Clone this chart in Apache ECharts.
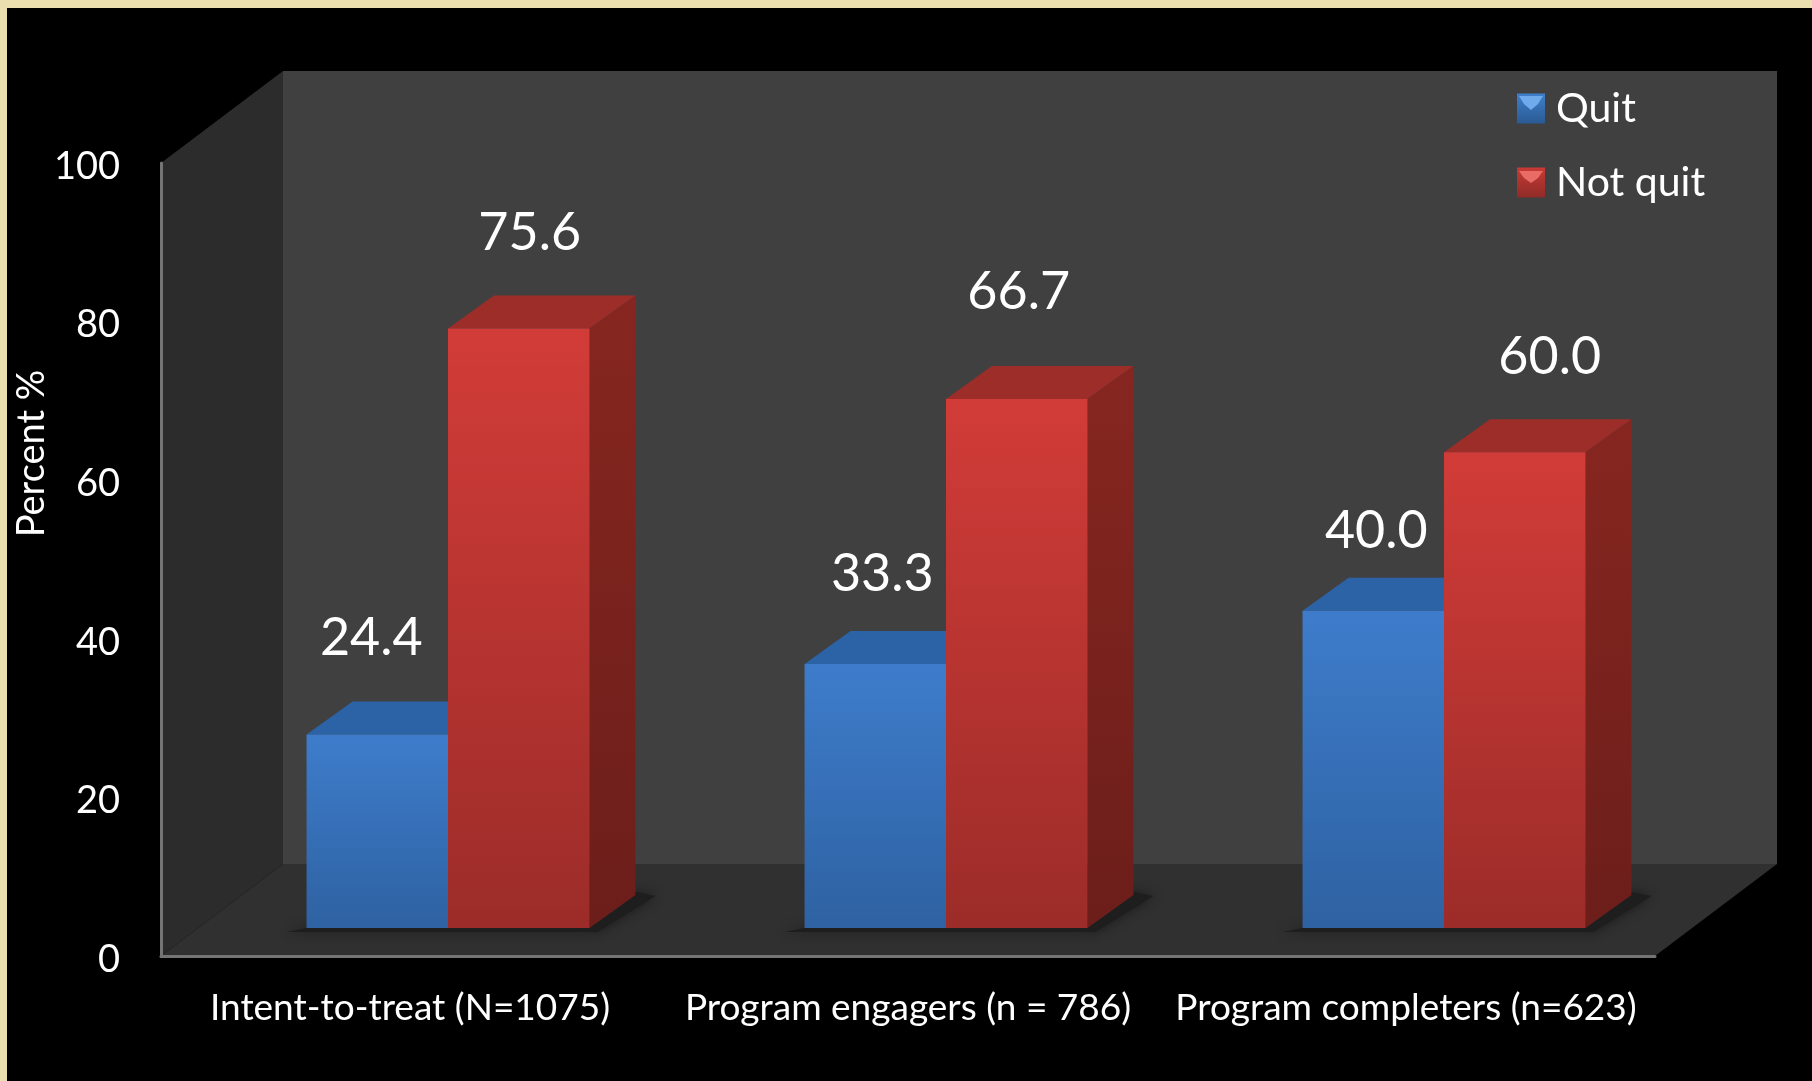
<!DOCTYPE html>
<html>
<head>
<meta charset="utf-8">
<style>html,body{margin:0;padding:0;background:#ebdfb0}#c{width:1812px;height:1081px}</style>
<script src="https://cdn.jsdelivr.net/npm/echarts@6/dist/echarts.min.js"></script>
</head>
<body>
<div id="c"></div>
<script>
const categories = ['Intent-to-treat (N=1075)', 'Program engagers (n = 786)', 'Program completers (n=623)'];
const quit = [24.4, 33.3, 40.0];
const notQuit = [75.6, 66.7, 60.0];
const yTicks = [0, 20, 40, 60, 80, 100];

// Hand-placed label nudges in the reference (px from bar-top centre), style only
const quitNudge = [[-6, -96], [7, -90], [3, -80]];
const notQuitNudge = [[11, -95], [2, -107], [35, -95]];

const FONT = 'Lato';
const WALL = [122, -92];    // depth of the chart box
const SEAT = [38, -28];     // bar front face, set back from the front plane
const BAR_DEPTH = [46, -33];
const BAR_RATIO = 0.284;

function lg(a, b) {
  return new echarts.graphic.LinearGradient(0, 0, 0, 1, [{offset: 0, color: a}, {offset: 1, color: b}]);
}
function poly(points, fill, extra) {
  return Object.assign({type: 'polygon', shape: {points}, style: {fill}, silent: true}, extra || {});
}

function barRenderer(side, faces, values, nudge) {
  return function (params, api) {
    const i = api.value(0), v = api.value(1);
    const bw = api.size([1, 0])[0] * BAR_RATIO;
    const top = api.coord([i, v]), base = api.coord([i, 0]);
    const x0 = base[0] + SEAT[0] + (side < 0 ? -bw : 0), x1 = x0 + bw;
    const yb = base[1] + SEAT[1], yt = top[1] + SEAT[1];
    const dx = BAR_DEPTH[0], dy = BAR_DEPTH[1];
    return {type: 'group', children: [
      poly([[x0, yt], [x1, yt], [x1 + dx, yt + dy], [x0 + dx, yt + dy]], faces.top),
      poly([[x1, yt], [x1 + dx, yt + dy], [x1 + dx, yb + dy], [x1, yb]], faces.side),
      {type: 'rect', shape: {x: x0, y: yt, width: bw, height: yb - yt}, style: {fill: faces.front}, silent: true},
      {type: 'text', silent: true, z2: 50, style: {
        text: values[i].toFixed(1),
        x: (x0 + x1) / 2 + nudge[i][0], y: yt + nudge[i][1],
        fill: '#ffffff', font: '52px ' + FONT, align: 'center', verticalAlign: 'middle'
      }}
    ]};
  };
}

function renderWalls(params, api) {
  const g = params.coordSys;
  const l = g.x, r = g.x + g.width, t = g.y, b = g.y + g.height;
  const dx = WALL[0], dy = WALL[1];
  return {type: 'group', children: [
    poly([[l + dx, t + dy], [r + dx, t + dy], [r + dx, b + dy], [l + dx, b + dy]], '#404040'),
    poly([[l, t], [l + dx, t + dy], [l + dx, b + dy], [l, b]], '#2c2c2c'),
    poly([[l, b], [l + dx, b + dy], [r + dx, b + dy], [r, b]], '#303030')
  ]};
}

function renderShadow(params, api) {
  const i = api.value(0);
  const bw = api.size([1, 0])[0] * BAR_RATIO;
  const base = api.coord([i, 0]);
  const x0 = base[0] + SEAT[0] - bw, x1 = base[0] + SEAT[0] + bw;
  const yb = base[1] + SEAT[1];
  const dx = BAR_DEPTH[0], dy = BAR_DEPTH[1];
  return poly([[x0 - 20, yb + 4], [x1 + 8, yb + 4], [x1 + dx + 20, yb + dy + 1], [x1 + dx, yb + dy - 3], [x1, yb], [x0, yb]],
    '#1e1e1e', {style: {fill: '#1e1e1e', shadowBlur: 11, shadowColor: '#1a1a1a'}});
}

const quitFaces = {front: lg('#3e7ccb', '#2e62a2'), top: '#2c63a6', side: '#24507f'};
const notQuitFaces = {front: lg('#d23c38', '#9c2c29'), top: '#9d2d28', side: lg('#872620', '#6c1e1a')};

const chart = echarts.init(document.getElementById('c'), null, {renderer: 'canvas'});
chart.setOption({
  animation: false,
  backgroundColor: '#ebdfb0',
  grid: {left: 161, top: 163, width: 1494, height: 793, containLabel: false, outerBoundsMode: 'none'},
  graphic: [
    {type: 'rect', z: -10, silent: true, shape: {x: 7, y: 8, width: 1805, height: 1073}, style: {fill: '#000000'}},
    // bevel highlight on the legend swatches
    {type: 'polygon', z: 100, silent: true, shape: {points: [[1519, 96], [1543, 96], [1538, 104], [1531, 110], [1524, 104]]}, style: {fill: '#6fabec'}},
    {type: 'polygon', z: 100, silent: true, shape: {points: [[1519, 171], [1543, 171], [1538, 178], [1531, 183], [1524, 178]]}, style: {fill: '#ea6c66'}}
  ],
  legend: {
    orient: 'vertical', left: 1517, top: 88, padding: 0, itemWidth: 28, itemHeight: 30, itemGap: 33, icon: 'rect',
    selectedMode: false,
    textStyle: {color: '#fff', fontFamily: FONT, fontSize: 41, padding: [0, 0, 0, 6]},
    data: [
      {name: 'Quit', itemStyle: {color: lg('#3f7fcc', '#2a5a94')}},
      {name: 'Not quit', itemStyle: {color: lg('#c83a36', '#8f2b27')}}
    ]
  },
  xAxis: {
    type: 'category', data: categories, z: 2,
    axisLine: {show: true, lineStyle: {color: '#757575', width: 3}},
    axisTick: {show: false}, splitLine: {show: false},
    axisLabel: {color: '#fff', fontFamily: FONT, fontSize: 37, margin: 34, interval: 0, hideOverlap: false}
  },
  yAxis: {
    type: 'value', min: yTicks[0], max: yTicks[yTicks.length - 1], interval: yTicks[1] - yTicks[0], z: 2,
    name: 'Percent %', nameLocation: 'middle', nameRotate: 90, nameGap: 110, nameMoveOverlap: false,
    nameTextStyle: {color: '#fff', fontFamily: FONT, fontSize: 38, padding: [0, 0, 0, 212]},
    axisLine: {show: true, lineStyle: {color: '#757575', width: 3}},
    axisTick: {show: false}, splitLine: {show: false},
    axisLabel: {
      color: '#fff', fontFamily: FONT, fontSize: 38, margin: 41,
      formatter: '{t|{value}}',
      rich: {t: {color: '#fff', fontFamily: FONT, fontSize: 38, padding: [7, 0, 0, 0]}}
    }
  },
  series: [
    {type: 'custom', name: 'walls', z: 1, silent: true, coordinateSystem: 'cartesian2d', renderItem: renderWalls, data: [[0, 0]], encode: {x: 0, y: 1}},
    {type: 'custom', name: 'shadow', z: 1.5, silent: true, coordinateSystem: 'cartesian2d', renderItem: renderShadow, data: categories.map((c, i) => [i, 0]), encode: {x: 0, y: 1}},
    {type: 'custom', name: 'Quit', z: 3, coordinateSystem: 'cartesian2d', renderItem: barRenderer(-1, quitFaces, quit, quitNudge), data: quit.map((v, i) => [i, v]), encode: {x: 0, y: 1}},
    {type: 'custom', name: 'Not quit', z: 4, coordinateSystem: 'cartesian2d', renderItem: barRenderer(1, notQuitFaces, notQuit, notQuitNudge), data: notQuit.map((v, i) => [i, v]), encode: {x: 0, y: 1}}
  ]
});
</script>
</body>
</html>
